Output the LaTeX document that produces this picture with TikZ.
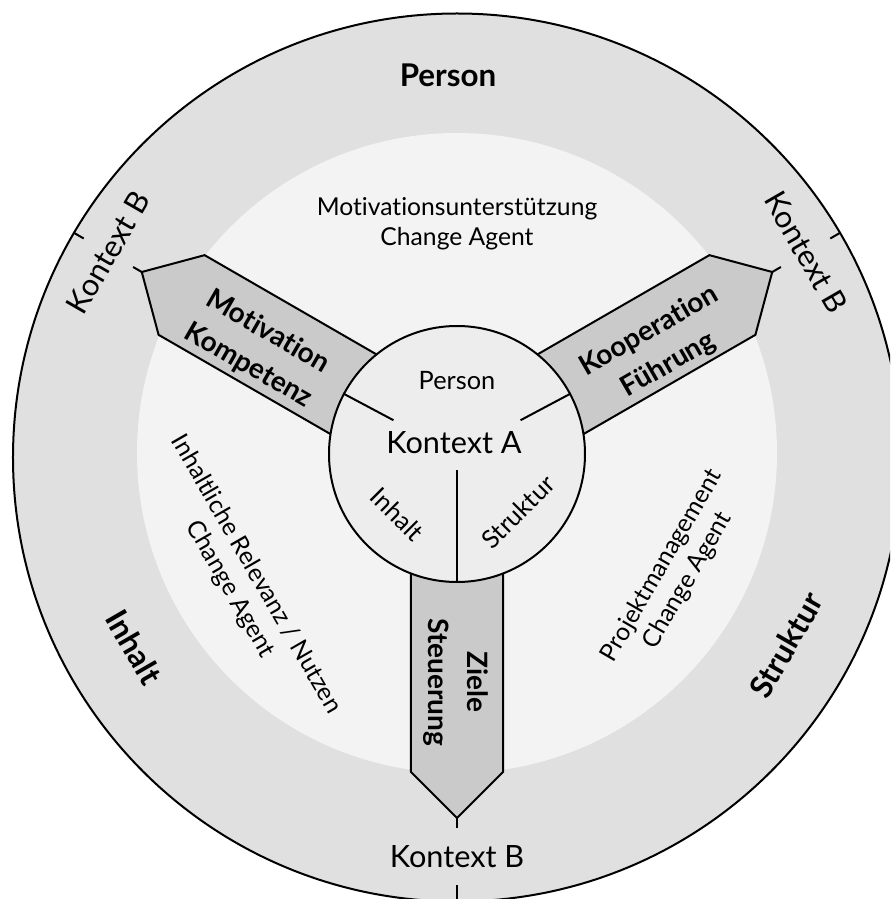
\documentclass[tikz,border=0pt]{standalone}
\usepackage{fontspec}
\setmainfont{Lato}[Ligatures=NoCommon]
\definecolor{ringgray}{HTML}{E0E0E0}
\definecolor{lightfill}{HTML}{F3F3F3}
\definecolor{corefill}{HTML}{EDEDED}
\definecolor{arrowfill}{HTML}{CACACA}
\begin{document}
\begin{tikzpicture}[x=0.75pt,y=0.75pt,
  edge/.style={draw=black,line width=1.5pt},
  pointer/.style={edge,fill=arrowfill,line join=miter},
  ringlabel/.style={inner sep=0,font=\bfseries\fontsize{23.5}{27}\selectfont},
  arrowlabel/.style={inner sep=0,align=center,font=\bfseries\fontsize{21}{29}\selectfont},
  zonelabel/.style={inner sep=0,align=center,font=\fontsize{18.5}{22.5}\selectfont},
  ctxb/.style={inner sep=0,font=\fontsize{23}{27}\selectfont},
  corelabel/.style={inner sep=0,font=\fontsize{19}{22}\selectfont}]
\useasboundingbox (-457,-445) rectangle (433,454);
\clip (-457,-445) rectangle (433,454);
% rings
\draw[edge,fill=ringgray] (0,-3.5) circle[radius=444];
\fill[lightfill] (0,1) circle[radius=320];
% pointers
\foreach \a in {150,30,270}{
  \draw[pointer,rotate=\a] (90,46) -- (318,46) -- (364,0) -- (318,-46) -- (90,-46) -- cycle;
}
% core circle
\node[circle,edge,fill=corefill,minimum size=192pt,inner sep=0] (A) at (0,0) {};
\coordinate (d1) at (152:72);
\coordinate (d2) at (28:72);
\coordinate (d3) at (0,-16);
\draw[edge] (d1) -- (A.152);
\draw[edge] (d2) -- (A.28);
\draw[edge] (d3) -- (A.270);
% Kontext B ticks
\coordinate (tipL) at (150:364);
\coordinate (tipR) at (30:364);
\coordinate (tipD) at (270:364);
\coordinate (tL1) at (150:374);
\coordinate (tR1) at (30:374);
\coordinate (tD1) at (270:374);
\coordinate (oL0) at (150:431);
\coordinate (oR0) at (30:431);
\coordinate (oD0) at (270:431);
\coordinate (oL1) at (150:443);
\coordinate (oR1) at (30:443);
\coordinate (oD1) at (270:450);
\draw[edge] (tipL) -- (tL1);
\draw[edge] (tipR) -- (tR1);
\draw[edge] (tipD) -- (tD1);
\draw[edge] (oL0) -- (oL1);
\draw[edge] (oR0) -- (oR1);
\draw[edge] (oD0) -- (oD1);
\node[ctxb,rotate=60] (kbL) at (150:403) {Kontext B};
\node[ctxb,rotate=-60] (kbR) at (30:403) {Kontext B};
\node[ctxb] (kbD) at (270:403) {Kontext B};
% ring labels
\node[ringlabel] (pers) at (-9,379) {Person};
\node[ringlabel,rotate=-60] (inh) at (-323,-193) {Inhalt};
\node[ringlabel,rotate=60] (str) at (329,-191) {Struktur};
% zone labels
\node[zonelabel] (zP) at (0,230) {Motivationsunterstützung\\Change Agent};
\node[zonelabel,rotate=-60] (zI) at (-214,-128) {Inhaltliche Relevanz / Nutzen\\Change Agent};
\node[zonelabel,rotate=60] (zS) at (218,-119) {Projektmanagement\\Change Agent};
% arrow labels
\node[arrowlabel,rotate=-30] (aL) at (-199,105) {Motivation\\Kompetenz};
\node[arrowlabel,rotate=30] (aR) at (202,106) {Kooperation\\Führung};
\node[arrowlabel,rotate=-90] (aD) at (-1,-228) {Ziele\\Steuerung};
% core labels
\node[corelabel,anchor=base] (cP) at (0,64) {Person};
\node[inner sep=0,anchor=base,font=\fontsize{23}{27}\selectfont] (cA) at (-3,0) {Kontext A};
\node[corelabel,rotate=-45] (cI) at (-60,-60) {Inhalt};
\node[corelabel,rotate=45] (cS) at (61,-58) {Struktur};
\end{tikzpicture}
\end{document}
